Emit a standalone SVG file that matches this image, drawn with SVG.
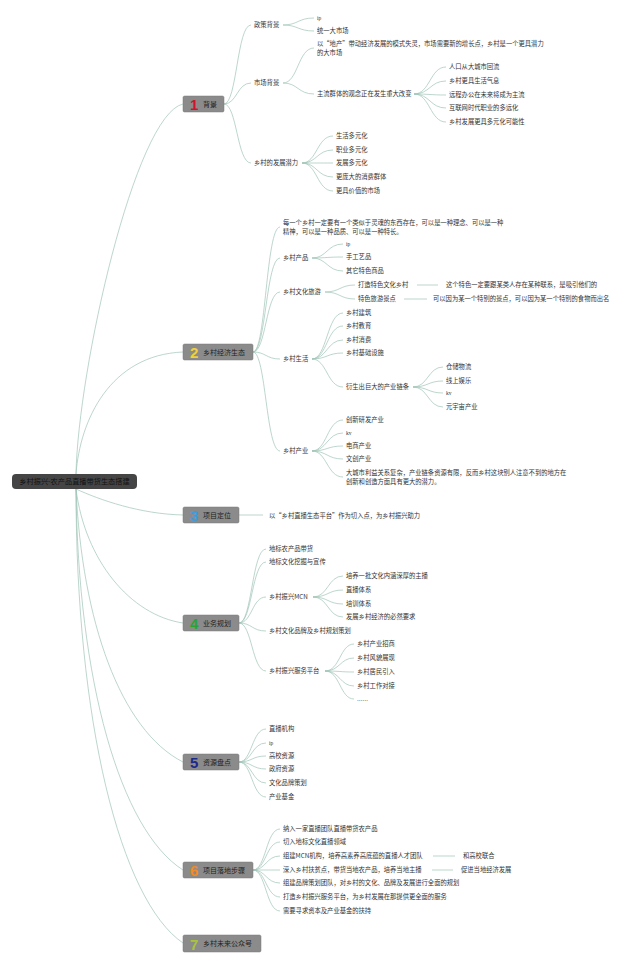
<svg xmlns="http://www.w3.org/2000/svg" width="640" height="963" viewBox="0 0 640 963">
<style>
.c{fill:none;stroke:#9fc4b6;stroke-width:0.7}
.t{font-family:"Noto Sans CJK SC","Liberation Sans",sans-serif;font-size:6.3px;fill:#333}
.s{font-family:"Liberation Serif",serif;font-size:5.5px;fill:#333}
.b{fill:#8b8b8b;stroke:#7a7a7a;stroke-width:0.5}
.bt{font-family:"Noto Sans CJK SC","Liberation Sans",sans-serif;font-size:7px;fill:#222}
.n{font-family:"Liberation Sans",sans-serif;font-weight:bold;font-size:15px}
.r{font-family:"Noto Sans CJK SC","Liberation Sans",sans-serif;font-size:7.2px;fill:#111}
</style>
<rect width="640" height="963" fill="#ffffff"/>
<g id="connectors">
<path class="c" d="M76,474 C78,370 135,115 183,104"/>
<path class="c" d="M76,474 C80,420 110,355 183,352"/>
<path class="c" d="M76,489 C100,500 140,514 183,515"/>
<path class="c" d="M76,489 C85,560 130,615 183,623"/>
<path class="c" d="M76,489 C82,620 120,730 183,762"/>
<path class="c" d="M76,489 C78,680 120,830 183,870"/>
<path class="c" d="M76,489 C76,720 120,900 183,943"/>
<!-- branch 1 -->
<path class="c" d="M224,104 C237,104 237,25 251,25"/>
<path class="c" d="M224,104 C237,104 237,83 251,83"/>
<path class="c" d="M224,104 C237,104 237,163 251,163"/>
<path class="c" d="M283,25 C298,25 298,18 314,18"/>
<path class="c" d="M283,25 C298,25 298,31 314,31"/>
<path class="c" d="M283,83 C298,83 298,48 314,48"/>
<path class="c" d="M283,83 C298,83 298,94 314,94"/>
<path class="c" d="M414,94 C430,94 430,67 446,67"/>
<path class="c" d="M414,94 C430,94 430,81 446,81"/>
<path class="c" d="M414,94 C430,94 430,95 446,95"/>
<path class="c" d="M414,94 C430,94 430,108 446,108"/>
<path class="c" d="M414,94 C430,94 430,122 446,122"/>
<path class="c" d="M302,163 C317,163 317,136 333,136"/>
<path class="c" d="M302,163 C317,163 317,150 333,150"/>
<path class="c" d="M302,163 C317,163 317,163 333,163"/>
<path class="c" d="M302,163 C317,163 317,177 333,177"/>
<path class="c" d="M302,163 C317,163 317,191 333,191"/>
<!-- branch 2 -->
<path class="c" d="M253,352 C266,352 266,227 280,227"/>
<path class="c" d="M253,352 C266,352 266,258 280,258"/>
<path class="c" d="M253,352 C266,352 266,292 280,292"/>
<path class="c" d="M253,352 C266,352 266,359 280,359"/>
<path class="c" d="M253,352 C266,352 266,451 280,451"/>
<path class="c" d="M312,258 C327,258 327,244 343,244"/>
<path class="c" d="M312,258 C327,258 327,257 343,257"/>
<path class="c" d="M312,258 C327,258 327,271 343,271"/>
<path class="c" d="M325,292 C340,292 340,285 355,285"/>
<path class="c" d="M325,292 C340,292 340,299 355,299"/>
<path class="c" d="M417,285 L438,285"/>
<path class="c" d="M404,299 L427,299"/>
<path class="c" d="M312,359 C327,359 327,313 343,313"/>
<path class="c" d="M312,359 C327,359 327,326 343,326"/>
<path class="c" d="M312,359 C327,359 327,340 343,340"/>
<path class="c" d="M312,359 C327,359 327,353 343,353"/>
<path class="c" d="M312,359 C327,359 327,387 343,387"/>
<path class="c" d="M413,387 C428,387 428,367 443,367"/>
<path class="c" d="M413,387 C428,387 428,381 443,381"/>
<path class="c" d="M413,387 C428,387 428,393 443,393"/>
<path class="c" d="M413,387 C428,387 428,407 443,407"/>
<path class="c" d="M312,451 C327,451 327,420 343,420"/>
<path class="c" d="M312,451 C327,451 327,433 343,433"/>
<path class="c" d="M312,451 C327,451 327,446 343,446"/>
<path class="c" d="M312,451 C327,451 327,459 343,459"/>
<path class="c" d="M312,451 C327,451 327,477 343,477"/>
<!-- branch 3 -->
<path class="c" d="M239,515 L263,515"/>
<!-- branch 4 -->
<path class="c" d="M239,623 C252,623 252,549 266,549"/>
<path class="c" d="M239,623 C252,623 252,562 266,562"/>
<path class="c" d="M239,623 C252,623 252,597 266,597"/>
<path class="c" d="M239,623 C252,623 252,631 266,631"/>
<path class="c" d="M239,623 C252,623 252,671 266,671"/>
<path class="c" d="M313,597 C328,597 328,576 343,576"/>
<path class="c" d="M313,597 C328,597 328,590 343,590"/>
<path class="c" d="M313,597 C328,597 328,604 343,604"/>
<path class="c" d="M313,597 C328,597 328,617 343,617"/>
<path class="c" d="M325,671 C340,671 340,644 354,644"/>
<path class="c" d="M325,671 C340,671 340,658 354,658"/>
<path class="c" d="M325,671 C340,671 340,672 354,672"/>
<path class="c" d="M325,671 C340,671 340,686 354,686"/>
<path class="c" d="M325,671 C340,671 340,699 354,699"/>
<!-- branch 5 -->
<path class="c" d="M239,762 C252,762 252,729 266,729"/>
<path class="c" d="M239,762 C252,762 252,743 266,743"/>
<path class="c" d="M239,762 C252,762 252,756 266,756"/>
<path class="c" d="M239,762 C252,762 252,769 266,769"/>
<path class="c" d="M239,762 C252,762 252,783 266,783"/>
<path class="c" d="M239,762 C252,762 252,797 266,797"/>
<!-- branch 6 -->
<path class="c" d="M253,870 C266,870 266,829 280,829"/>
<path class="c" d="M253,870 C266,870 266,842 280,842"/>
<path class="c" d="M253,870 C266,870 266,856 280,856"/>
<path class="c" d="M253,870 C266,870 266,870 280,870"/>
<path class="c" d="M253,870 C266,870 266,883 280,883"/>
<path class="c" d="M253,870 C266,870 266,897 280,897"/>
<path class="c" d="M253,870 C266,870 266,911 280,911"/>
<path class="c" d="M433,856 L455,856"/>
<path class="c" d="M432,870 L453,870"/>
</g>
<g id="root">
<rect x="12" y="474" width="125" height="15" rx="4" fill="#454545"/>
<text class="r" x="74.5" y="484.3" text-anchor="middle">乡村振兴-农产品直播带货生态搭建</text>
</g>
<g id="b1">
<rect class="b" x="183" y="96" width="41" height="16" rx="1.5"/>
<text class="n" x="190" y="110" fill="#d0132c">1</text>
<text class="bt" x="203" y="106.5">背景</text>
</g>
<g id="b1-children">
<text class="t" x="254" y="27.3">政策背景</text>
<text class="s" x="317" y="19.8">ip</text>
<text class="t" x="317" y="33.3">统一大市场</text>
<text class="t" x="254" y="85.3">市场背景</text>
<text class="t" x="317" y="46.3">以“地产”带动经济发展的模式失灵，市场需要新的增长点，乡村是一个更具潜力</text>
<text class="t" x="317" y="55.3">的大市场</text>
<text class="t" x="317" y="96.3">主流群体的观念正在发生重大改变</text>
<text class="t" x="449" y="69.3">人口从大城市回流</text>
<text class="t" x="449" y="83.3">乡村更具生活气息</text>
<text class="t" x="449" y="97.3">远程办公在未来将成为主流</text>
<text class="t" x="449" y="110.3">互联网时代职业的多远化</text>
<text class="t" x="449" y="124.3">乡村发展更具多元化可能性</text>
<text class="t" x="254" y="165.3">乡村的发展潜力</text>
<text class="t" x="336" y="138.3">生活多元化</text>
<text class="t" x="336" y="152.3">职业多元化</text>
<text class="t" x="336" y="165.3">发展多元化</text>
<text class="t" x="336" y="179.3">更庞大的消费群体</text>
<text class="t" x="336" y="193.3">更具价值的市场</text>
</g>
<g id="b2">
<rect class="b" x="183" y="344" width="70" height="16" rx="1.5"/>
<text class="n" x="190" y="358" fill="#f2d03a">2</text>
<text class="bt" x="203" y="354.5">乡村经济生态</text>
</g>
<g id="b2-children">
<text class="t" x="283" y="225.3">每一个乡村一定要有一个类似于灵魂的东西存在，可以是一种理念、可以是一种</text>
<text class="t" x="283" y="234.3">精神，可以是一种品质、可以是一种特长。</text>
<text class="t" x="283" y="260.3">乡村产品</text>
<text class="s" x="346" y="245.8">ip</text>
<text class="t" x="346" y="259.3">手工艺品</text>
<text class="t" x="346" y="273.3">其它特色商品</text>
<text class="t" x="283" y="294.3">乡村文化旅游</text>
<text class="t" x="358" y="287.3">打造特色文化乡村</text>
<text class="t" x="446" y="287.3">这个特色一定要跟某类人存在某种联系，是吸引他们的</text>
<text class="t" x="358" y="301.3">特色旅游景点</text>
<text class="t" x="433" y="301.3">可以因为某一个特别的景点，可以因为某一个特别的食物而出名</text>
<text class="t" x="283" y="361.3">乡村生活</text>
<text class="t" x="346" y="315.3">乡村建筑</text>
<text class="t" x="346" y="328.3">乡村教育</text>
<text class="t" x="346" y="342.3">乡村消费</text>
<text class="t" x="346" y="355.3">乡村基础设施</text>
<text class="t" x="346" y="389.3">衍生出巨大的产业链条</text>
<text class="t" x="446" y="369.3">仓储物流</text>
<text class="t" x="446" y="383.3">线上娱乐</text>
<text class="s" x="446" y="395.3">kv</text>
<text class="t" x="446" y="409.3">元宇宙产业</text>
<text class="t" x="283" y="453.3">乡村产业</text>
<text class="t" x="346" y="422.3">创新研发产业</text>
<text class="s" x="346" y="435.3">kv</text>
<text class="t" x="346" y="448.3">电商产业</text>
<text class="t" x="346" y="461.3">文创产业</text>
<text class="t" x="346" y="475.3">大城市利益关系复杂，产业链条资源有限，反而乡村这块别人注意不到的地方在</text>
<text class="t" x="346" y="484.3">创新和创造方面具有更大的潜力。</text>
</g>
<g id="b3">
<rect class="b" x="183" y="507" width="56" height="16" rx="1.5"/>
<text class="n" x="190" y="521" fill="#3d9de0">3</text>
<text class="bt" x="203" y="517.5">项目定位</text>
</g>
<g id="b3-children">
<text class="t" x="269" y="518.3">以“乡村直播生态平台”作为切入点，为乡村振兴助力</text>
</g>
<g id="b4">
<rect class="b" x="183" y="615" width="56" height="16" rx="1.5"/>
<text class="n" x="190" y="629" fill="#2aa336">4</text>
<text class="bt" x="203" y="625.5">业务规划</text>
</g>
<g id="b4-children">
<text class="t" x="269" y="551.3">地标农产品带货</text>
<text class="t" x="269" y="564.3">地标文化挖掘与宣传</text>
<text class="t" x="269" y="599.3">乡村振兴MCN</text>
<text class="t" x="346" y="578.3">培养一批文化内涵深厚的主播</text>
<text class="t" x="346" y="592.3">直播体系</text>
<text class="t" x="346" y="606.3">培训体系</text>
<text class="t" x="346" y="619.3">发展乡村经济的必然要求</text>
<text class="t" x="269" y="633.3">乡村文化品牌及乡村规划策划</text>
<text class="t" x="269" y="673.3">乡村振兴服务平台</text>
<text class="t" x="357" y="646.3">乡村产业招商</text>
<text class="t" x="357" y="660.3">乡村风貌展现</text>
<text class="t" x="357" y="674.3">乡村居民引入</text>
<text class="t" x="357" y="688.3">乡村工作对接</text>
<text class="s" x="357" y="701.3">……</text>
</g>
<g id="b5">
<rect class="b" x="183" y="754" width="56" height="16" rx="1.5"/>
<text class="n" x="190" y="768" fill="#1c2a8a">5</text>
<text class="bt" x="203" y="764.5">资源盘点</text>
</g>
<g id="b5-children">
<text class="t" x="269" y="731.3">直播机构</text>
<text class="s" x="269" y="744.8">ip</text>
<text class="t" x="269" y="758.3">高校资源</text>
<text class="t" x="269" y="771.3">政府资源</text>
<text class="t" x="269" y="785.3">文化品牌策划</text>
<text class="t" x="269" y="799.3">产业基金</text>
</g>
<g id="b6">
<rect class="b" x="183" y="862" width="70" height="16" rx="1.5"/>
<text class="n" x="190" y="876" fill="#f08a24">6</text>
<text class="bt" x="203" y="872.5">项目落地步骤</text>
</g>
<g id="b6-children">
<text class="t" x="283" y="831.3">纳入一家直播团队直播带货农产品</text>
<text class="t" x="283" y="844.3">切入地标文化直播领域</text>
<text class="t" x="283" y="858.3">组建MCN机构，培养高素养高底蕴的直播人才团队</text>
<text class="t" x="463" y="858.3">和高校联合</text>
<text class="t" x="283" y="872.3">深入乡村扶贫点，带货当地农产品，培养当地主播</text>
<text class="t" x="461" y="872.3">促进当地经济发展</text>
<text class="t" x="283" y="885.3">组建品牌策划团队，对乡村的文化、品牌及发展进行全面的规划</text>
<text class="t" x="283" y="899.3">打造乡村振兴服务平台，为乡村发展在那提供更全面的服务</text>
<text class="t" x="283" y="913.3">需要寻求资本及产业基金的扶持</text>
</g>
<g id="b7">
<rect class="b" x="183" y="935" width="78" height="17" rx="1.5"/>
<text class="n" x="190" y="949.5" fill="#a9c43c">7</text>
<text class="bt" x="203" y="946">乡村未来公众号</text>
</g>
</svg>
